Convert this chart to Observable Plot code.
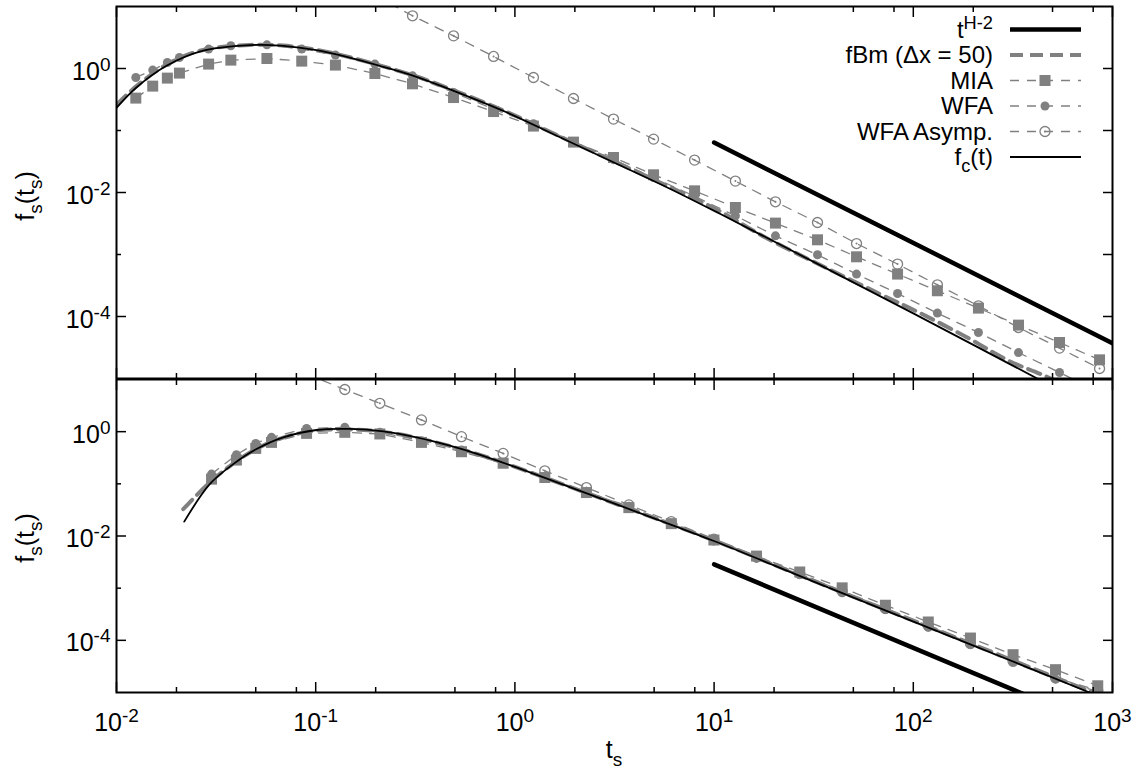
<!DOCTYPE html>
<html><head><meta charset="utf-8">
<script src="https://cdn.jsdelivr.net/npm/d3@7"></script>
<script src="https://cdn.jsdelivr.net/npm/@observablehq/plot@0.6"></script>
<style>
body{margin:0;background:#fff;}
#chart{position:relative;width:1136px;height:771px;background:#fff;overflow:hidden;}
#chart svg{display:block;overflow:visible;position:absolute;left:0;}
</style></head><body><div id="chart"></div>
<script>
// ---------------- DATA (top panel) ----------------
const tTop = [0.0125,0.0152,0.0180,0.0207,0.0290,0.0375,0.0569,0.0851,0.1256,0.1982,0.3062,0.4920,0.7816,1.239,1.968,3.126,4.966,7.980,12.79,20.32,33.04,51.88,83.37,132.1,212.3,337.3,542.0,861.0];
const miaTop = [0.333,0.520,0.700,0.843,1.178,1.365,1.449,1.315,1.135,0.830,0.566,0.340,0.202,0.1178,0.0650,0.0367,0.0193,0.01064,0.00573,0.00321,0.001726,0.000918,0.000483,0.000260,0.0001365,0.0000726,0.0000381,0.0000200];
const wfaTop = [0.716,0.942,1.250,1.503,2.056,2.323,2.410,2.056,1.644,1.178,0.762,0.410,0.221,0.129,0.0661,0.0339,0.0174,0.00871,0.00421,0.00200,0.000989,0.000483,0.000235,0.0001135,0.0000552,0.0000262,0.0000125,0.0000060];
const asympTopT = [0.1982,0.3062,0.4920,0.7816,1.239,1.968,3.126,4.966,7.980,12.79,20.32,33.04,51.88,83.37,132.1,212.3,337.3,542.0,861.0];
const asympTop = [15.1,7.08,3.365,1.563,0.716,0.328,0.1528,0.0726,0.0333,0.01528,0.00708,0.00328,0.001503,0.000700,0.000324,0.0001489,0.0000665,0.0000309,0.0000145];
const fcTopT = [0.01,0.01259,0.01782,0.02618,0.04667,0.06871,0.1009,0.1483,0.2183,0.3206,0.4932,0.9141,1.694,3.141,5.821,10.76,31.62,100,418.8,1000];
const fcTop = [0.232,0.494,1.107,1.879,2.382,2.323,1.982,1.503,1.064,0.7345,0.4365,0.1950,0.0771,0.0305,0.01205,0.00449,0.000759,0.0001122,0.00001,0.0000023];
const fbmTopT = [0.01,0.01259,0.01782,0.02618,0.04667,0.06871,0.1009,0.1483,0.2183,0.3206,0.4932,0.9141,1.694,3.141,5.821,10.57,18.11,36.22,67.14,106.7,186.6,301.3,488.7,1000];
const fbmTop = [0.26,0.52,1.15,1.93,2.40,2.34,2.00,1.52,1.08,0.745,0.445,0.199,0.0795,0.0318,0.0128,0.00507,0.00188,0.000617,0.000235,0.0001161,0.0000458,0.0000193,0.0000100,0.0000028];
const powTopT = [10,1000];
const powTop = [0.064,0.000037];

// ---------------- DATA (bottom panel) ----------------
const tBot = [0.0300,0.0400,0.0500,0.0600,0.0900,0.1400,0.2099,0.3396,0.5395,0.8730,1.413,2.286,3.733,6.095,9.977,16.33,26.92,43.95,72.44,118.9,193.6,316.9,517.6,843.3];
const miaBot = [0.1230,0.2858,0.4775,0.6223,0.9268,0.9705,0.9036,0.6223,0.4121,0.2483,0.1321,0.06808,0.03499,0.01726,0.008375,0.004121,0.002042,0.001014,0.000471,0.0002249,0.0001107,0.0000531,0.0000274,0.00001346];
const wfaBot = [0.1535,0.3614,0.5957,0.7780,1.156,1.211,0.9705,0.6714,0.4436,0.2512,0.1349,0.06918,0.03715,0.01679,0.008017,0.003724,0.001832,0.000813,0.000389,0.0001778,0.0000826,0.0000378,0.0000180,0.00001047];
const asympBotT = [0.0900,0.1400,0.2099,0.3396,0.5395,0.8730,1.413,2.286,3.733,6.095,9.977,16.33,26.92,43.95,72.44,118.9,193.6,316.9,517.6,843.3];
const asympBot = [12.76,6.427,3.499,1.679,0.8017,0.3828,0.1778,0.08492,0.03945,0.01884,0.00871,0.00398,0.001905,0.000871,0.000407,0.0001905,0.0000871,0.0000398,0.0000191,0.00001096];
const fcBotT = [0.02188,0.02938,0.03855,0.05047,0.06871,0.1009,0.1483,0.2183,0.3206,0.4710,0.6934,1.019,2.904,9.977,34.2,186.6,746.4,1000];
const fcBot = [0.01884,0.0986,0.2388,0.4645,0.778,1.076,1.127,1.014,0.778,0.538,0.345,0.2061,0.0471,0.00802,0.001178,0.0000887,0.00001045,0.0000066];
const fbmBotT = [0.02163,0.02884,0.03855,0.05047,0.06871,0.1009,0.1483,0.2183,0.3206,0.4710,0.6934,1.019,2.904,9.977,34.2,186.6,746.4,1000];
const fbmBot = [0.0326,0.100,0.245,0.470,0.77,1.05,1.10,0.99,0.765,0.53,0.342,0.206,0.0478,0.00825,0.00122,0.0000925,0.0000110,0.0000070];
const powBotT = [10,1000];
const powBot = [0.00286,0.0000018];

// ---------------- TICKS & LABELS ----------------
const xMajor = [1e-2,1e-1,1e0,1e1,1e2,1e3];
const xMinor = [2e-2,5e-2,8e-2,2e-1,5e-1,8e-1,2,5,8,20,50,80,200,500,800];
const yLabeled = [1e-4,1e-2,1];
const yOdd = [1e-3,1e-1];
const yRight = [1e-4,1e-3,1e-2,1e-1,1];
const legendLabels = ["t^{H-2}","fBm (\u0394x = 50)","MIA","WFA","WFA Asymp.","f_{c}(t)"];
const yTitle = "f_{s}(t_{s})";
const xTitle = "t_{s}";

// ---------------- STYLE ----------------
const GRAY = "#808080";
const FONT = "'Liberation Sans', Arial, Helvetica, sans-serif";
const FS = 25;
const LFS = 24;
const thinDash = "9,8";

const rows = (t, f) => t.map((x, i) => ({t: x, f: f[i]}));

function rich(sel, s, size) {
  sel.text(null);
  const re = /([\^_])\{([^}]*)\}/g;
  let last = 0, m; const parts = [];
  while ((m = re.exec(s))) {
    if (m.index > last) parts.push({t: s.slice(last, m.index), k: 0});
    parts.push({t: m[2], k: m[1] === "^" ? 1 : -1});
    last = re.lastIndex;
  }
  if (last < s.length) parts.push({t: s.slice(last), k: 0});
  let cur = 0;
  for (const p of parts) {
    const target = p.k === 1 ? -0.36 * size : p.k === -1 ? 0.3 * size : 0;
    sel.append("tspan").attr("dy", target - cur).attr("font-size", p.k ? size * 0.76 : size).text(p.t);
    cur = target;
  }
}

function panel(o) {
  const mia = rows(o.t, o.mia), wfa = rows(o.t, o.wfa), asy = rows(o.aT, o.a);
  const ax = {label: null, strokeWidth: 1.5};
  const marks = [
    Plot.line(rows(o.powT, o.pow), {x: "t", y: "f", stroke: "black", strokeWidth: 4.5, clip: true}),
    Plot.line(rows(o.fbmT, o.fbm), {x: "t", y: "f", stroke: GRAY, strokeWidth: 4, strokeDasharray: "13,7", curve: "catmull-rom", clip: true}),
    Plot.line(mia, {x: "t", y: "f", stroke: GRAY, strokeWidth: 1.3, strokeDasharray: thinDash, clip: true}),
    Plot.dot(mia, {x: "t", y: "f", symbol: "square", r: 6.2, fill: GRAY, clip: true}),
    Plot.line(wfa, {x: "t", y: "f", stroke: GRAY, strokeWidth: 1.3, strokeDasharray: thinDash, clip: true}),
    Plot.dot(wfa, {x: "t", y: "f", symbol: "circle", r: 4.5, fill: GRAY, clip: true}),
    Plot.line(asy, {x: "t", y: "f", stroke: GRAY, strokeWidth: 1.3, strokeDasharray: thinDash, clip: true}),
    Plot.dot(asy, {x: "t", y: "f", r: 5, fill: "none", stroke: GRAY, strokeWidth: 1.3, clip: true}),
    Plot.dot(asy, {x: "t", y: "f", r: 1, fill: GRAY, clip: true}),
    Plot.line(rows(o.fcT, o.fc), {x: "t", y: "f", stroke: "black", strokeWidth: 1.8, curve: "catmull-rom", clip: true}),
    Plot.frame({stroke: "black", strokeWidth: 2}),
    Plot.axisX({...ax, anchor: "bottom", ticks: xMajor, tickSize: -10, tickFormat: () => ""}),
    Plot.axisX({...ax, anchor: "bottom", ticks: xMinor, tickSize: -5, tickFormat: () => ""}),
    Plot.axisX({...ax, anchor: "top", ticks: xMajor, tickSize: -10, tickFormat: () => ""}),
    Plot.axisX({...ax, anchor: "top", ticks: xMinor, tickSize: -5, tickFormat: () => ""}),
    Plot.axisY({...ax, anchor: "left", ticks: yLabeled, tickSize: -10, tickFormat: () => ""}),
    Plot.axisY({...ax, anchor: "left", ticks: yOdd, tickSize: -5, tickFormat: () => ""}),
    Plot.axisY({...ax, anchor: "right", ticks: yRight, tickSize: -10, tickFormat: () => ""}),
    Plot.axisY({label: null, anchor: "left", ticks: yLabeled, tickSize: 0, tickPadding: 6, dy: 3, fontSize: FS,
      tickFormat: d => `10^{${Math.round(Math.log10(d))}}`})
  ];
  if (o.xLabels) marks.push(Plot.axisX({label: null, anchor: "bottom", ticks: xMajor, tickSize: 0, tickPadding: 21, fontSize: FS,
      tickFormat: d => `10^{${Math.round(Math.log10(d))}}`}));
  const svg = Plot.plot({
    width: 1136, height: o.height, marginLeft: 116, marginRight: 24, marginTop: o.mt, marginBottom: o.mb,
    x: {type: "log", domain: [1e-2, 1e3], label: null},
    y: {type: "log", domain: [1e-5, 10], label: null},
    style: {fontFamily: FONT, overflow: "visible", background: "transparent"},
    marks
  });
  svg.style.top = o.top + "px";
  d3.select(svg).selectAll("text").each(function () {
    const s = this.textContent;
    if (s.includes("^{") || s.includes("_{")) rich(d3.select(this), s, FS);
  });
  const g = d3.select(svg).append("g").attr("transform", `translate(34,${o.yTitleY}) rotate(-90)`)
    .attr("font-family", FONT);
  rich(g.append("text").attr("text-anchor", "middle").attr("fill", "black"), yTitle, FS);
  return svg;
}

const topSvg = panel({top: 0, height: 380, mt: 6, mb: 2, yTitleY: 196,
  t: tTop, mia: miaTop, wfa: wfaTop, aT: asympTopT, a: asympTop,
  fcT: fcTopT, fc: fcTop, fbmT: fbmTopT, fbm: fbmTop, powT: powTopT, pow: powTop, xLabels: false});
const botSvg = panel({top: 378, height: 393, mt: 1, mb: 79, yTitleY: 160,
  t: tBot, mia: miaBot, wfa: wfaBot, aT: asympBotT, a: asympBot,
  fcT: fcBotT, fc: fcBot, fbmT: fbmBotT, fbm: fbmBot, powT: powBotT, pow: powBot, xLabels: true});

const xt = d3.select(botSvg).append("text").attr("x", 614).attr("y", 380).attr("text-anchor", "middle")
  .attr("font-family", FONT).attr("fill", "black");
rich(xt, xTitle, FS);

// legend (top panel)
const leg = d3.select(topSvg).append("g").attr("font-family", FONT);
const lx0 = 1010, lx1 = 1081, lmx = 1045, ltx = 993;
const styles = [
  {stroke: "black", w: 4.5},
  {stroke: GRAY, w: 4, dash: "13,7"},
  {stroke: GRAY, w: 1.3, dash: thinDash, marker: "square"},
  {stroke: GRAY, w: 1.3, dash: thinDash, marker: "dot"},
  {stroke: GRAY, w: 1.3, dash: thinDash, marker: "open"},
  {stroke: "black", w: 1.8}
];
legendLabels.forEach((lab, i) => {
  const y = 29.5 + i * 25.5, st = styles[i];
  rich(leg.append("text").attr("x", ltx).attr("y", y + 8).attr("text-anchor", "end").attr("fill", "black"), lab, LFS);
  leg.append("line").attr("x1", lx0).attr("x2", lx1).attr("y1", y).attr("y2", y)
    .attr("stroke", st.stroke).attr("stroke-width", st.w).attr("stroke-dasharray", st.dash || null);
  if (st.marker === "square") leg.append("rect").attr("x", lmx - 5.5).attr("y", y - 5.5).attr("width", 11).attr("height", 11).attr("fill", GRAY);
  if (st.marker === "dot") leg.append("circle").attr("cx", lmx).attr("cy", y).attr("r", 4.5).attr("fill", GRAY);
  if (st.marker === "open") {
    leg.append("circle").attr("cx", lmx).attr("cy", y).attr("r", 5).attr("fill", "none").attr("stroke", GRAY).attr("stroke-width", 1.3);
    leg.append("circle").attr("cx", lmx).attr("cy", y).attr("r", 1).attr("fill", GRAY);
  }
});

const chart = document.getElementById("chart");
chart.appendChild(topSvg);
chart.appendChild(botSvg);
</script></body></html>
